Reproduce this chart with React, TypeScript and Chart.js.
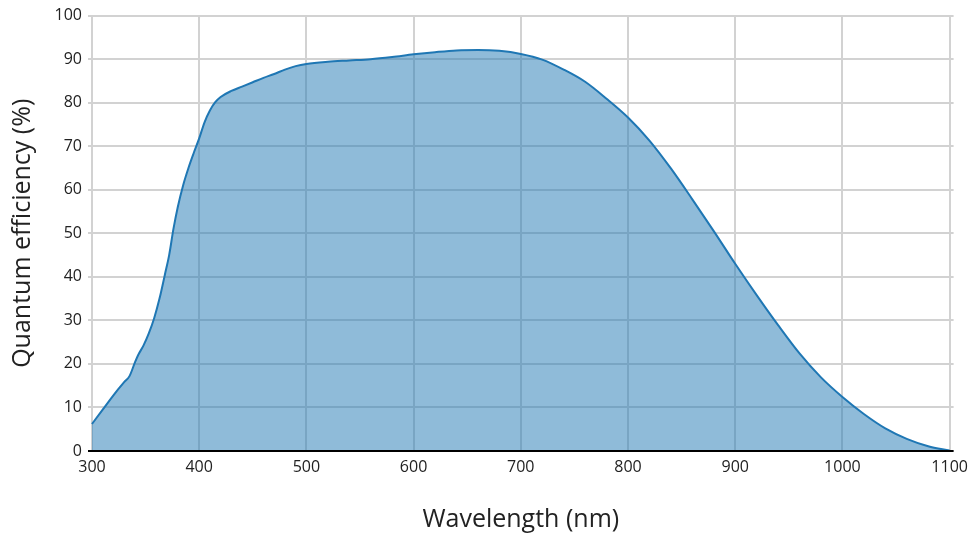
import React, { useEffect, useRef } from "react";
import { Chart, registerables } from "chart.js";

Chart.register(...registerables);

const wavelengths = [
  300, 310, 320, 330, 335, 340, 343, 348, 353, 358, 363, 368, 372, 376, 380, 385, 390, 395,
  400, 405, 410, 415, 420, 430, 440, 450, 460, 470, 480, 490, 500, 520, 540, 560, 580, 600,
  620, 640, 660, 680, 700, 720, 740, 760, 780, 800, 820, 840, 860, 880, 900, 920, 940, 960,
  980, 1000, 1020, 1040, 1060, 1080, 1100,
];
const efficiency = [
  6.2, 9.5, 12.8, 15.8, 17.2, 20.3, 22, 24.2, 27, 30.5, 35, 40.5, 45, 51, 56, 61, 65, 68.5,
  71.8, 75.5, 78.2, 80.1, 81.3, 82.7, 83.7, 84.7, 85.7, 86.6, 87.6, 88.4, 88.9, 89.4, 89.7, 90.0, 90.5, 91.1,
  91.6, 92.0, 92.1, 91.9, 91.2, 89.9, 87.6, 84.8, 80.9, 76.6, 71.3, 64.9, 57.8, 50.5, 43.0, 35.8, 28.9, 22.4,
  16.9, 12.4, 8.5, 5.2, 2.8, 1.1, 0.1,
];
const xTicks = [300, 400, 500, 600, 700, 800, 900, 1000, 1100];
const yTicks = [0, 10, 20, 30, 40, 50, 60, 70, 80, 90, 100];

const FONT = "'Open Sans', 'Noto Sans', sans-serif";

const zeroLine = {
  id: "zeroLine",
  afterDatasetsDraw(chart: any) {
    const { ctx, chartArea } = chart;
    const y = chart.scales.y.getPixelForValue(0);
    ctx.save();
    ctx.strokeStyle = "#000";
    ctx.lineWidth = 2;
    ctx.beginPath();
    ctx.moveTo(chartArea.left, y);
    ctx.lineTo(chartArea.right, y);
    ctx.stroke();
    ctx.restore();
  },
};

export default function App() {
  const ref = useRef<HTMLCanvasElement | null>(null);
  useEffect(() => {
    document.body.style.margin = "0";
    const chart = new Chart(ref.current as HTMLCanvasElement, {
      type: "line",
      data: {
        datasets: [
          {
            data: wavelengths.map((x, i) => ({ x, y: efficiency[i] })),
            borderColor: "#1f77b4",
            backgroundColor: "rgba(31,119,180,0.5)",
            borderWidth: 2,
            fill: "origin",
            pointRadius: 0,
            cubicInterpolationMode: "monotone",
          },
        ],
      },
      options: {
        animation: false,
        responsive: false,
        maintainAspectRatio: false,
        layout: { padding: { top: 15, right: 17, left: 0, bottom: 0 } },
        plugins: { legend: { display: false }, tooltip: { enabled: false } },
        scales: {
          x: {
            type: "linear",
            min: 296.3,
            max: 1103.7,
            afterBuildTicks: (s: any) => {
              s.ticks = xTicks.map((v) => ({ value: v }));
            },
            afterFit: (s: any) => {
              s.height = 84;
            },
            grid: { color: "#d2d2d2", lineWidth: 2, drawTicks: false },
            border: { display: false },
            ticks: {
              font: { family: FONT, size: 16 },
              color: "#222",
              padding: 7,
              maxRotation: 0,
              autoSkip: false,
              callback: (v: any) => String(v),
            },
            title: {
              display: true,
              text: "Wavelength (nm)",
              font: { family: FONT, size: 25 },
              color: "#222",
              padding: { top: 0, bottom: 0 },
            },
          },
          y: {
            min: 0,
            max: 100,
            afterBuildTicks: (s: any) => {
              s.ticks = yTicks.map((v) => ({ value: v }));
            },
            afterFit: (s: any) => {
              s.width = 88;
            },
            grid: { color: "#d2d2d2", lineWidth: 2, drawTicks: false },
            border: { display: false },
            ticks: {
              font: { family: FONT, size: 16 },
              color: "#222",
              padding: 6,
              autoSkip: false,
              callback: (v: any) => String(v),
            },
            title: {
              display: true,
              text: "Quantum efficiency (%)",
              font: { family: FONT, size: 25 },
              color: "#222",
              padding: { top: 8, bottom: 0 },
            },
          },
        },
      },
      plugins: [zeroLine],
    } as any);
    return () => chart.destroy();
  }, []);
  return (
    <div style={{ width: 975, height: 535 }}>
      <canvas ref={ref} width={975} height={535} style={{ width: 975, height: 535, display: "block" }} />
    </div>
  );
}
